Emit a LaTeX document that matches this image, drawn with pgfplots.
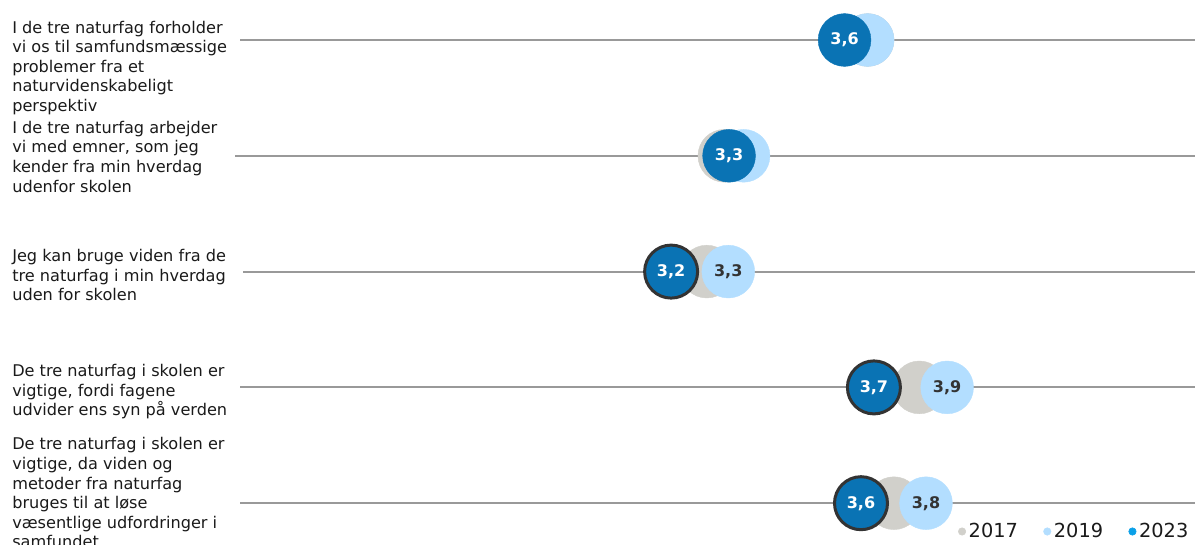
\documentclass[border=0pt]{standalone}
\usepackage{pgfplots}
\pgfplotsset{compat=1.18}
\usepackage{pgfplotstable}
\usepackage{fontspec}
\setmainfont{DejaVu Sans}
\definecolor{dkblue}{HTML}{0A73B4}
\definecolor{ltblue}{HTML}{B3DEFF}
\definecolor{gry}{HTML}{D1D0CB}
\definecolor{bord}{HTML}{333333}
\definecolor{lgblue}{HTML}{0AA0E8}
\definecolor{linegray}{HTML}{999999}
\definecolor{txt}{HTML}{1A1A1A}

% 2017
\pgfplotstableread{
v row
3.665 1
3.299 2
3.254 3
3.797 4
3.732 5
}\tabA
% 2019
\pgfplotstableread{
v row lab
3.665 1 {}
3.348 2 {}
3.309 3 {3,3}
3.868 4 {3,9}
3.814 5 {3,8}
}\tabB
% 2023 (no border)
\pgfplotstableread{
v row lab
3.606 1 {3,6}
3.311 2 {3,3}
}\tabC
% 2023 (with border)
\pgfplotstableread{
v row lab
3.163 3 {3,2}
3.681 4 {3,7}
3.648 5 {3,6}
}\tabD

\newcommand{\lblfont}{\fontsize{12.1pt}{14.7pt}\selectfont}
\newcommand{\numfont}{\fontsize{12pt}{13pt}\selectfont\bfseries}

\begin{document}
\begin{tikzpicture}
\begin{axis}[
  scale only axis,
  width=896.25pt, height=408.75pt,
  xmin=1.44879, xmax=4.50115,
  ymin=0.65458, ymax=5.36097,
  y dir=reverse,
  axis lines=none,
  xtick=\empty, ytick=\empty,
  clip=false,
  legend columns=3,
  legend style={at={(1,0)}, anchor=south east, xshift=-4pt, yshift=3pt,
    draw=none, fill=none, inner sep=0pt, outer sep=0pt,
    font=\fontsize{14.5pt}{16pt}\selectfont, text=txt,
    nodes={inner sep=1pt},
    /tikz/every even column/.append style={column sep=18pt}},
]
% grid lines
\addplot[linegray, line width=1.5pt, forget plot] coordinates {(2.06182,1) (4.50115,1)};
\addplot[linegray, line width=1.5pt, forget plot] coordinates {(2.04905,2) (4.50115,2)};
\addplot[linegray, line width=1.5pt, forget plot] coordinates {(2.06948,3) (4.50115,3)};
\addplot[linegray, line width=1.5pt, forget plot] coordinates {(2.06182,4) (4.50115,4)};
\addplot[linegray, line width=1.5pt, forget plot] coordinates {(2.06182,5) (4.50115,5)};

% 2017
\addplot[color=gry, only marks, mark=*, mark size=19.8pt,
  mark options={draw=gry, fill=gry, line width=0.3pt},
  legend image code/.code={\fill[gry] (0pt,0pt) circle (2.8pt);\path (3.8pt,0pt);}]
  table[x=v, y=row] {\tabA};
\addlegendentry{2017}

% 2019
\addplot[color=ltblue, only marks, mark=*, mark size=19.8pt,
  mark options={draw=ltblue, fill=ltblue, line width=0.3pt},
  point meta=explicit symbolic,
  nodes near coords,
  every node near coord/.append style={anchor=center, font=\numfont, text=bord, inner sep=0pt},
  legend image code/.code={\fill[ltblue] (0pt,0pt) circle (2.8pt);\path (3.8pt,0pt);}]
  table[x=v, y=row, meta=lab] {\tabB};
\addlegendentry{2019}

% 2023
\addplot[color=dkblue, only marks, mark=*, mark size=19.8pt,
  mark options={draw=dkblue, fill=dkblue, line width=0.3pt},
  point meta=explicit symbolic,
  nodes near coords,
  every node near coord/.append style={anchor=center, font=\numfont, text=white, inner sep=0pt},
  legend image code/.code={\fill[lgblue] (0pt,0pt) circle (2.8pt);\path (3.8pt,0pt);}]
  table[x=v, y=row, meta=lab] {\tabC};
\addlegendentry{2023}

\addplot[color=dkblue, only marks, mark=*, mark size=19.875pt,
  mark options={draw=bord, line width=2.25pt, fill=dkblue},
  point meta=explicit symbolic,
  nodes near coords,
  every node near coord/.append style={anchor=center, font=\numfont, text=white, inner sep=0pt},
  forget plot]
  table[x=v, y=row, meta=lab] {\tabD};

% row labels
\node[anchor=north west, align=left, inner sep=0pt, font=\lblfont, text=txt] at (axis cs:1.4795,0.83161)
  {I de tre naturfag forholder\\vi os til samfundsmæssige\\problemer fra et\\naturvidenskabeligt\\perspektiv};
\node[anchor=north west, align=left, inner sep=0pt, font=\lblfont, text=txt] at (axis cs:1.4795,1.69689)
  {I de tre naturfag arbejder\\vi med emner, som jeg\\kender fra min hverdag\\udenfor skolen};
\node[anchor=north west, align=left, inner sep=0pt, font=\lblfont, text=txt] at (axis cs:1.4795,2.80484)
  {Jeg kan bruge viden fra de\\tre naturfag i min hverdag\\uden for skolen};
\node[anchor=north west, align=left, inner sep=0pt, font=\lblfont, text=txt] at (axis cs:1.4795,3.79793)
  {De tre naturfag i skolen er\\vigtige, fordi fagene\\udvider ens syn på verden};
\node[anchor=north west, align=left, inner sep=0pt, font=\lblfont, text=txt] at (axis cs:1.4795,4.43092)
  {De tre naturfag i skolen er\\vigtige, da viden og\\metoder fra naturfag\\bruges til at løse\\væsentlige udfordringer i\\samfundet};
\end{axis}
\pgfresetboundingbox
\path[use as bounding box] (0pt,0pt) rectangle (896.25pt,408.75pt);
\end{tikzpicture}
\end{document}
